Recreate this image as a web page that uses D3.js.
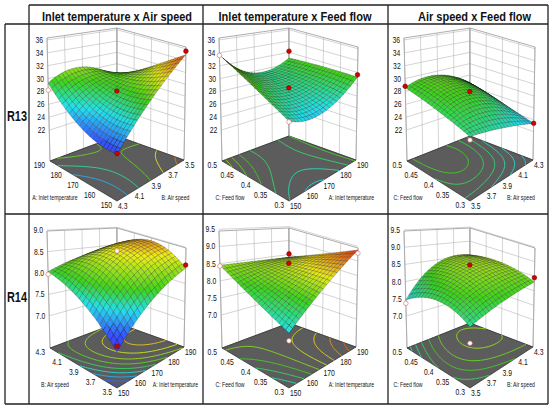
<!DOCTYPE html>
<html>
<head>
<meta charset="utf-8">
<script src="https://cdn.jsdelivr.net/npm/d3@7"></script>
<style>
  body { margin: 0; background: #fff; }
  text { font-family: "Liberation Sans", Arial, sans-serif; fill: #111; }
</style>
</head>
<body>
<script>
// ---- data ----
var columnTitles = ["Inlet temperature x Air speed", "Inlet temperature x Feed flow", "Air speed x Feed flow"];
var rowLabels = ["R13", "R14"];
var factorNames = { A: "A: Inlet temperature", B: "B: Air speed", C: "C: Feed flow" };

// design levels (low, centre, high) and floor tick labels
var levelsA = [150, 170, 190];
var levelsB = [3.5, 3.9, 4.3];
var levelsC = [0.3, 0.4, 0.5];
var ticksA = [150, 160, 170, 180, 190];
var ticksB = [3.5, 3.7, 3.9, 4.1, 4.3];
var ticksC = [0.3, 0.35, 0.4, 0.45, 0.5];
var ticksR13 = [22, 24, 26, 28, 30, 32, 34, 36];
var ticksR14a = [7.0, 7.5, 8.0, 8.5, 9.0];
var ticksR14b = [7.0, 7.5, 8.0, 8.5, 9.0, 9.5];

// response at the design levels: rows = first factor, cols = second factor
var r13AB = [[35.0, 30.0, 24.2], [31.3, 29.1, 25.0], [27.5, 30.7, 29.3]];   // A x B
var r13CA = [[29.1, 27.95, 31.2], [31.4, 29.4, 31.25], [33.7, 29.7, 31.0]]; // C x A
var r13CB = [[26.8, 25.5, 23.4], [27.9, 28.9, 25.0], [28.6, 29.35, 26.6]];  // C x B
var r14BA = [[7.07, 7.9, 8.42], [7.75, 8.6, 8.9], [8.03, 8.3, 8.44]];      // B x A
var r14CA = [[7.6, 8.49, 9.38], [8.0, 8.5, 8.89], [8.45, 8.43, 8.4]];       // C x A
var r14CB = [[7.8, 8.1, 8.3], [8.0, 8.55, 8.6], [7.46, 8.4, 8.5]];          // C x B

// design points: [first factor, second factor, response]
var r13ABpts = [[150, 3.5, 35.6], [170, 3.9, 29.1], [150, 4.3, 24.3], [190, 4.3, 28.2]];
var r13CApts = [[0.5, 150, 33.6], [0.5, 190, 32.2], [0.3, 190, 31.6], [0.4, 170, 29.6], [0.3, 150, 29.0]];
var r13CBpts = [[0.5, 3.5, 28.8], [0.4, 3.9, 29.0], [0.3, 4.3, 23.4], [0.3, 3.5, 26.3]];
var r14BApts = [[4.3, 150, 7.97], [4.3, 190, 8.32], [3.5, 190, 8.51], [3.5, 150, 7.2]];
var r14CApts = [[0.5, 150, 8.43], [0.5, 190, 8.52], [0.4, 170, 8.83], [0.3, 190, 9.27], [0.3, 150, 7.38]];
var r14CBpts = [[0.5, 3.5, 7.37], [0.4, 3.9, 8.8], [0.3, 4.3, 8.45], [0.3, 3.5, 7.34]];

var levels = { A: levelsA, B: levelsB, C: levelsC };
var ticks = { A: ticksA, B: ticksB, C: ticksC };

// ---- layout ----
var COLS = [
    { fx: 117, hw: 67, nL: 62, nR: 58.5 },
    { fx: 289, hw: 67, nL: 59, nR: 62.5 },
    { fx: 470, hw: 63, nL: 62, nR: 51 }
];
var ROWS = [
    { fF: 201, fL: 161, fR: 160, fB: 136, tF: 73, tL: 38, tR: 47, tB: 28, labelY: 120.5 },
    { fF: 388, fL: 348, fR: 347, fB: 323, tF: 268, tL: 231, tR: 248, tB: 228, labelY: 301.5 }
];
var HEAD = [{ x: 117, w: 150 }, { x: 295, w: 153 }, { x: 474.5, w: 113 }];
var PALETTE = ["#3a48ff", "#22e2ee", "#3ed41c", "#eeee1a", "#ee2a10"];

var panels = [
    { row: 0, col: 0, f1: "A", f2: "B", grid: r13AB, pts: r13ABpts, zTicks: ticksR13, zDom: [17.2, 36.3],
      d1: [150, 190], d2: [4.3, 3.5], cdom: [24.2, 27, 29.5, 32, 35.5], fmt: d3.format("d") },
    { row: 0, col: 1, f1: "C", f2: "A", grid: r13CA, pts: r13CApts, zTicks: ticksR13, zDom: [17.2, 36.3],
      d1: [0.3, 0.5], d2: [150, 190], cdom: [26, 28.2, 31, 35, 38], fmt: d3.format("d") },
    { row: 0, col: 2, f1: "C", f2: "B", grid: r13CB, pts: r13CBpts, zTicks: ticksR13, zDom: [17.2, 36.3],
      d1: [0.3, 0.5], d2: [3.5, 4.3], cdom: [21, 24.5, 29, 33, 36], fmt: d3.format("d") },
    { row: 1, col: 0, f1: "B", f2: "A", grid: r14BA, pts: r14BApts, zTicks: ticksR14a, zDom: [6.25, 8.98],
      d1: [3.5, 4.3], d2: [150, 190], cdom: [7.3, 7.75, 8.1, 8.7, 9.2], fmt: d3.format(".1f") },
    { row: 1, col: 1, f1: "C", f2: "A", grid: r14CA, pts: r14CApts, zTicks: ticksR14b, zDom: [6.04, 9.45],
      d1: [0.3, 0.5], d2: [150, 190], cdom: [7.0, 7.6, 8.2, 8.7, 9.4], fmt: d3.format(".1f") },
    { row: 1, col: 2, f1: "C", f2: "B", grid: r14CB, pts: r14CBpts, zTicks: ticksR14b, zDom: [6.07, 9.47],
      d1: [0.3, 0.5], d2: [3.5, 4.3], cdom: [6.9, 7.5, 8.2, 9.0, 9.6], fmt: d3.format(".1f") }
];

var svg = d3.select("body").append("svg").attr("width", 550).attr("height", 410);

// squeezed text, the figure uses a narrow face
function label(parent, x, y, str, size, anchor, squeeze, weight, width) {
    var t = parent.append("text").attr("x", x).attr("y", y)
        .attr("font-size", size).attr("text-anchor", anchor).text(str);
    if (weight) t.attr("font-weight", weight);
    var len = width || t.node().getComputedTextLength() * squeeze;
    t.attr("textLength", len).attr("lengthAdjust", "spacingAndGlyphs");
    return t;
}

// quadratic through the three design levels
function lagr(t) {
    return [2 * (t - 0.5) * (t - 1), -4 * t * (t - 1), 2 * t * (t - 0.5)];
}

function drawPanel(p) {
    var col = COLS[p.col], row = ROWS[p.row];
    var floor = { F: [col.fx, row.fF], L: [col.fx - col.hw, row.fL], R: [col.fx + col.hw, row.fR], B: [col.fx, row.fB] };
    var top = { F: [col.fx, row.tF], L: [col.fx - col.hw - 3, row.tL], R: [col.fx + col.hw + 2, row.tR], B: [col.fx, row.tB] };
    function bil(P, u, v) {
        var a = (1 - u) * (1 - v), b = u * (1 - v), c = (1 - u) * v, d = u * v;
        return [P.F[0] * a + P.L[0] * b + P.R[0] * c + P.B[0] * d,
                P.F[1] * a + P.L[1] * b + P.R[1] * c + P.B[1] * d];
    }
    var zs = d3.scaleLinear().domain(p.zDom).range([0, 1]);
    var us = d3.scaleLinear().domain(p.d1).range([0, 1]);
    var vs = d3.scaleLinear().domain(p.d2).range([0, 1]);
    var l1 = d3.scaleLinear().domain([levels[p.f1][0], levels[p.f1][2]]).range([0, 1]);
    var l2 = d3.scaleLinear().domain([levels[p.f2][0], levels[p.f2][2]]).range([0, 1]);
    var color = d3.scaleLinear().domain(p.cdom).range(PALETTE).clamp(true);
    var z0 = p.zDom[0], z1 = p.zDom[1];

    function proj(u, v, z) {
        var a = bil(floor, u, v), b = bil(top, u, v), w = zs(z);
        return [a[0] + (b[0] - a[0]) * w, a[1] + (b[1] - a[1]) * w];
    }
    function surf(x1, x2) {
        var la = lagr(l1(x1)), lb = lagr(l2(x2)), s = 0;
        for (var i = 0; i < 3; i++) for (var j = 0; j < 3; j++) s += la[i] * lb[j] * p.grid[i][j];
        return s;
    }
    function zAt(u, v) { return surf(us.invert(u), vs.invert(v)); }

    var g = svg.append("g");
    var line = d3.line();

    // back walls
    var wallL = [proj(1, 0, z0), proj(1, 1, z0), proj(1, 1, z1), proj(1, 0, z1)];
    var wallR = [proj(1, 1, z0), proj(0, 1, z0), proj(0, 1, z1), proj(1, 1, z1)];
    g.selectAll(".wall").data([wallL, wallR]).enter().append("path")
        .attr("d", function(d){ return line(d) + "Z"; })
        .attr("fill", "#fff").attr("stroke", "#8a8a8a").attr("stroke-width", 0.7);
    var gl = [];
    p.zTicks.forEach(function(t){
        gl.push([proj(1, 0, t), proj(1, 1, t)]);
        gl.push([proj(1, 1, t), proj(0, 1, t)]);
    });
    ticks[p.f2].forEach(function(t){ gl.push([proj(1, vs(t), z0), proj(1, vs(t), z1)]); });
    ticks[p.f1].forEach(function(t){ gl.push([proj(us(t), 1, z0), proj(us(t), 1, z1)]); });
    g.append("path").attr("d", gl.map(function(s){ return line(s); }).join(""))
        .attr("fill", "none").attr("stroke", "#a8a8a8").attr("stroke-width", 0.5);

    // floor with contour lines
    var fl = [proj(0, 0, z0), proj(1, 0, z0), proj(1, 1, z0), proj(0, 1, z0)];
    g.append("path").attr("d", line(fl) + "Z").attr("fill", "#5c5c5c")
        .attr("stroke", "#2a2a2a").attr("stroke-width", 0.7);

    var N = 40, vals = [];
    for (var i = 0; i <= N; i++) {
        vals.push([]);
        for (var j = 0; j <= N; j++) vals[i].push(zAt(i / N, j / N));
    }
    var flat = [].concat.apply([], vals);
    var thr = d3.ticks(d3.min(flat), d3.max(flat), 6);
    thr.forEach(function(th){
        var dstr = "";
        for (var i = 0; i < N; i++) for (var j = 0; j < N; j++) {
            var c = [[i, j], [i + 1, j], [i + 1, j + 1], [i, j + 1]], hits = [];
            for (var k = 0; k < 4; k++) {
                var a = c[k], b = c[(k + 1) % 4];
                var va = vals[a[0]][a[1]], vb = vals[b[0]][b[1]];
                if ((va < th) !== (vb < th)) {
                    var f = (th - va) / (vb - va);
                    hits.push(proj((a[0] + (b[0] - a[0]) * f) / N, (a[1] + (b[1] - a[1]) * f) / N, z0));
                }
            }
            for (var h = 0; h + 1 < hits.length; h += 2) dstr += line([hits[h], hits[h + 1]]);
        }
        if (dstr) g.append("path").attr("d", dstr).attr("fill", "none")
            .attr("stroke", color(th)).attr("stroke-width", 0.9);
    });

    // response surface mesh, painted back to front
    var M = 20, pts = [], zz = [];
    for (var i = 0; i <= M; i++) {
        pts.push([]); zz.push([]);
        for (var j = 0; j <= M; j++) {
            var z = zAt(i / M, j / M);
            zz[i].push(z); pts[i].push(proj(i / M, j / M, z));
        }
    }
    var quads = [];
    for (var i = 0; i < M; i++) for (var j = 0; j < M; j++) quads.push([i, j]);
    quads.sort(function(a, b){ return (b[0] + b[1]) - (a[0] + a[1]); });
    var hr = 1.3 / (z1 - z0);
    var lx = -0.45, ly = -0.45, lz = 0.77;
    g.append("g").selectAll("path").data(quads).enter().append("path")
        .attr("d", function(q){
            var i = q[0], j = q[1];
            return line([pts[i][j], pts[i + 1][j], pts[i + 1][j + 1], pts[i][j + 1]]) + "Z";
        })
        .attr("fill", function(q){
            var i = q[0], j = q[1];
            var zm = (zz[i][j] + zz[i + 1][j] + zz[i + 1][j + 1] + zz[i][j + 1]) / 4;
            var du = (zz[i + 1][j] + zz[i + 1][j + 1] - zz[i][j] - zz[i][j + 1]) / 2 * M * hr;
            var dv = (zz[i][j + 1] + zz[i + 1][j + 1] - zz[i][j] - zz[i + 1][j]) / 2 * M * hr;
            var n = Math.sqrt(du * du + dv * dv + 1);
            var dot = Math.max(0, (-du * lx - dv * ly + lz) / n);
            return d3.rgb(color(zm)).darker((1 - dot) * 0.45).toString();
        })
        .attr("stroke", "rgba(0,0,0,0.5)").attr("stroke-width", 0.4);

    // design points
    g.selectAll(".pt").data(p.pts).enter().append("circle")
        .attr("cx", function(d){ return proj(us(d[0]), vs(d[1]), d[2])[0]; })
        .attr("cy", function(d){ return proj(us(d[0]), vs(d[1]), d[2])[1]; })
        .attr("r", 2.3)
        .attr("fill", function(d){ return d[2] >= surf(d[0], d[1]) ? "#d40000" : "#fff"; })
        .attr("stroke", function(d){ return d[2] >= surf(d[0], d[1]) ? "#700" : "#d66"; })
        .attr("stroke-width", 0.6);

    // response axis labels on the left edge
    p.zTicks.forEach(function(t){
        var q = proj(1, 0, t);
        label(g, q[0] - 4, q[1] + 3, p.fmt(t), 8.5, "end", 0.8);
    });
    // factor tick labels along the two front floor edges
    ticks[p.f1].forEach(function(t){
        var q = proj(us(t), 0, z0);
        label(g, q[0] - 5, q[1] + 7, String(t), 8.5, "end", 0.8);
    });
    ticks[p.f2].forEach(function(t){
        var q = proj(0, vs(t), z0);
        label(g, q[0] + 1, q[1] + 8, String(t), 8.5, "start", 0.8);
    });
    label(g, col.fx - col.nL, row.fL + 39, factorNames[p.f1], 7.2, "middle", 0.72);
    label(g, col.fx + col.nR, row.fL + 39, factorNames[p.f2], 7.2, "middle", 0.72);
}

panels.forEach(drawPanel);

// table frame
var frame = [
    [[29, 5], [548, 5]], [[5, 24], [548, 24]], [[5, 214], [548, 214]], [[5, 404], [548, 404]],
    [[5, 24], [5, 404]], [[29, 5], [29, 404]], [[203, 5], [203, 404]], [[388, 5], [388, 404]], [[548, 5], [548, 404]]
];
svg.append("path").attr("d", frame.map(function(s){ return d3.line()(s); }).join(""))
    .attr("fill", "none").attr("stroke", "#222").attr("stroke-width", 1.3);

columnTitles.forEach(function(t, i){
    label(svg, HEAD[i].x, 20.5, t, 12.5, "middle", 1, "bold", HEAD[i].w);
});
rowLabels.forEach(function(t, i){
    label(svg, 17, ROWS[i].labelY, t, 14, "middle", 1, "bold", 20);
});
</script>
</body>
</html>
